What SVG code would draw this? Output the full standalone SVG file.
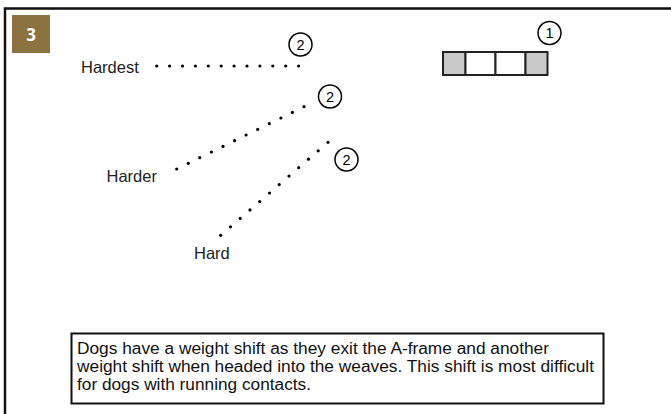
<svg xmlns="http://www.w3.org/2000/svg" width="671" height="414" viewBox="0 0 671 414">
<style>
.lbl{font-family:"Liberation Sans",Arial,sans-serif;font-size:16.5px;fill:#222}
.num{font-family:"Liberation Sans",Arial,sans-serif;font-size:14.5px;fill:#000;text-anchor:middle}
.ring{fill:#fff;stroke:#000;stroke-width:1.5}
.dot{fill:#000}
.cellg{fill:#c8c8c8;stroke:#222;stroke-width:2}
.cellw{fill:#fff;stroke:#222;stroke-width:2}
.body{font-family:"Liberation Sans",Arial,sans-serif;font-size:15.6px;fill:#111}
</style>
<rect width="671" height="414" fill="#fff"/>
<path d="M5,414 V8.5 H671" fill="none" stroke="#111" stroke-width="2.5"/>
<g id="badge">
<rect x="12" y="15" width="38" height="38" fill="#8b723e"/>
<text x="31" y="41" text-anchor="middle" font-family="'Open Sans','DejaVu Sans',sans-serif" font-weight="bold" font-size="17" fill="#fff">3</text>
</g>
<g id="aframe">
<rect class="cellg" x="443" y="52" width="22.5" height="23"/>
<rect class="cellw" x="465.5" y="52" width="30" height="23"/>
<rect class="cellw" x="495.5" y="52" width="30" height="23"/>
<rect class="cellg" x="525.5" y="52" width="22" height="23"/>
</g>
<g id="marker1">
<circle class="ring" cx="549.5" cy="33" r="11.5"/>
<text class="num" x="549.5" y="38">1</text>
</g>
<g id="hardest">
<text class="lbl" x="81" y="72.5">Hardest</text>
</g>
<g id="harder">
<text class="lbl" x="106.5" y="182">Harder</text>
</g>
<g id="hard">
<text class="lbl" x="194" y="259">Hard</text>
</g>
<g id="marker2a">
<circle class="ring" cx="300.5" cy="44.5" r="11.5"/>
<text class="num" x="300.5" y="49.5">2</text>
</g>
<g id="marker2b">
<circle class="ring" cx="330" cy="96.5" r="11.5"/>
<text class="num" x="330" y="101.5">2</text>
</g>
<g id="marker2c">
<circle class="ring" cx="346.5" cy="159.5" r="11.5"/>
<text class="num" x="346.5" y="164.5">2</text>
</g>
<g id="connectors">
<g id="path-hardest">
<circle class="dot" cx="156.7" cy="66" r="1.6"/>
<circle class="dot" cx="169.6" cy="66" r="1.6"/>
<circle class="dot" cx="182.5" cy="66" r="1.6"/>
<circle class="dot" cx="195.4" cy="66" r="1.6"/>
<circle class="dot" cx="208.3" cy="66" r="1.6"/>
<circle class="dot" cx="221.2" cy="66" r="1.6"/>
<circle class="dot" cx="234.1" cy="66" r="1.6"/>
<circle class="dot" cx="247.0" cy="66" r="1.6"/>
<circle class="dot" cx="259.9" cy="66" r="1.6"/>
<circle class="dot" cx="272.8" cy="66" r="1.6"/>
<circle class="dot" cx="285.7" cy="66" r="1.6"/>
<circle class="dot" cx="298.6" cy="66" r="1.6"/>
</g>
<g id="path-harder">
<circle class="dot" cx="176.7" cy="169" r="1.6"/>
<circle class="dot" cx="188.3" cy="163.3" r="1.6"/>
<circle class="dot" cx="199.8" cy="157.7" r="1.6"/>
<circle class="dot" cx="211.4" cy="152.0" r="1.6"/>
<circle class="dot" cx="223.0" cy="146.4" r="1.6"/>
<circle class="dot" cx="234.6" cy="140.7" r="1.6"/>
<circle class="dot" cx="246.1" cy="135.0" r="1.6"/>
<circle class="dot" cx="257.7" cy="129.4" r="1.6"/>
<circle class="dot" cx="269.3" cy="123.7" r="1.6"/>
<circle class="dot" cx="280.9" cy="118.0" r="1.6"/>
<circle class="dot" cx="292.4" cy="112.4" r="1.6"/>
<circle class="dot" cx="304.0" cy="106.7" r="1.6"/>
</g>
<g id="path-hard">
<circle class="dot" cx="220.7" cy="235.3" r="1.6"/>
<circle class="dot" cx="230.5" cy="226.8" r="1.6"/>
<circle class="dot" cx="240.2" cy="218.4" r="1.6"/>
<circle class="dot" cx="250.0" cy="209.9" r="1.6"/>
<circle class="dot" cx="259.7" cy="201.5" r="1.6"/>
<circle class="dot" cx="269.5" cy="193.0" r="1.6"/>
<circle class="dot" cx="279.2" cy="184.6" r="1.6"/>
<circle class="dot" cx="289.0" cy="176.1" r="1.6"/>
<circle class="dot" cx="298.7" cy="167.7" r="1.6"/>
<circle class="dot" cx="308.5" cy="159.2" r="1.6"/>
<circle class="dot" cx="318.2" cy="150.8" r="1.6"/>
<circle class="dot" cx="328.0" cy="142.3" r="1.6"/>
</g>
</g>
<g id="note">
<rect x="71.5" y="333.5" width="532" height="70" fill="#fff" stroke="#111" stroke-width="2"/>
<text class="body" x="77" y="353.5" textLength="472" lengthAdjust="spacingAndGlyphs">Dogs have a weight shift as they exit the A-frame and another</text>
<text class="body" x="77" y="371.5" textLength="517" lengthAdjust="spacingAndGlyphs">weight shift when headed into the weaves. This shift is most difficult</text>
<text class="body" x="77" y="389.5" textLength="234" lengthAdjust="spacingAndGlyphs">for dogs with running contacts.</text>
</g>
</svg>
